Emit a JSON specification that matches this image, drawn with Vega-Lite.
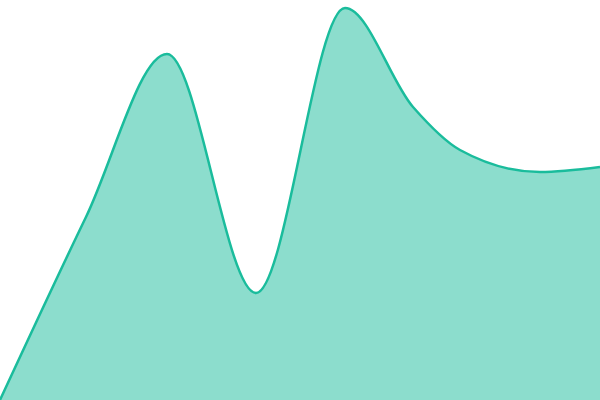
{
  "$schema": "https://vega.github.io/schema/vega-lite/v6.json",
  "autosize": "none",
  "width": 600,
  "height": 400,
  "padding": 0,
  "data": {
    "values": [
      {"x": 0, "v": 0},
      {"x": 86, "v": 183},
      {"x": 167, "v": 346},
      {"x": 256, "v": 107},
      {"x": 345, "v": 392},
      {"x": 413, "v": 293},
      {"x": 460, "v": 250},
      {"x": 540, "v": 228},
      {"x": 600, "v": 233}
    ]
  },
  "mark": {
    "type": "area",
    "interpolate": "monotone",
    "color": "#1abc9c",
    "fillOpacity": 0.5,
    "line": {"color": "#1abc9c", "strokeWidth": 2.5}
  },
  "encoding": {
    "x": {"field": "x", "type": "quantitative", "axis": null, "scale": {"domain": [0, 600], "nice": false}},
    "y": {"field": "v", "type": "quantitative", "axis": null, "scale": {"domain": [0, 400], "nice": false}}
  },
  "config": {"view": {"stroke": null}}
}
